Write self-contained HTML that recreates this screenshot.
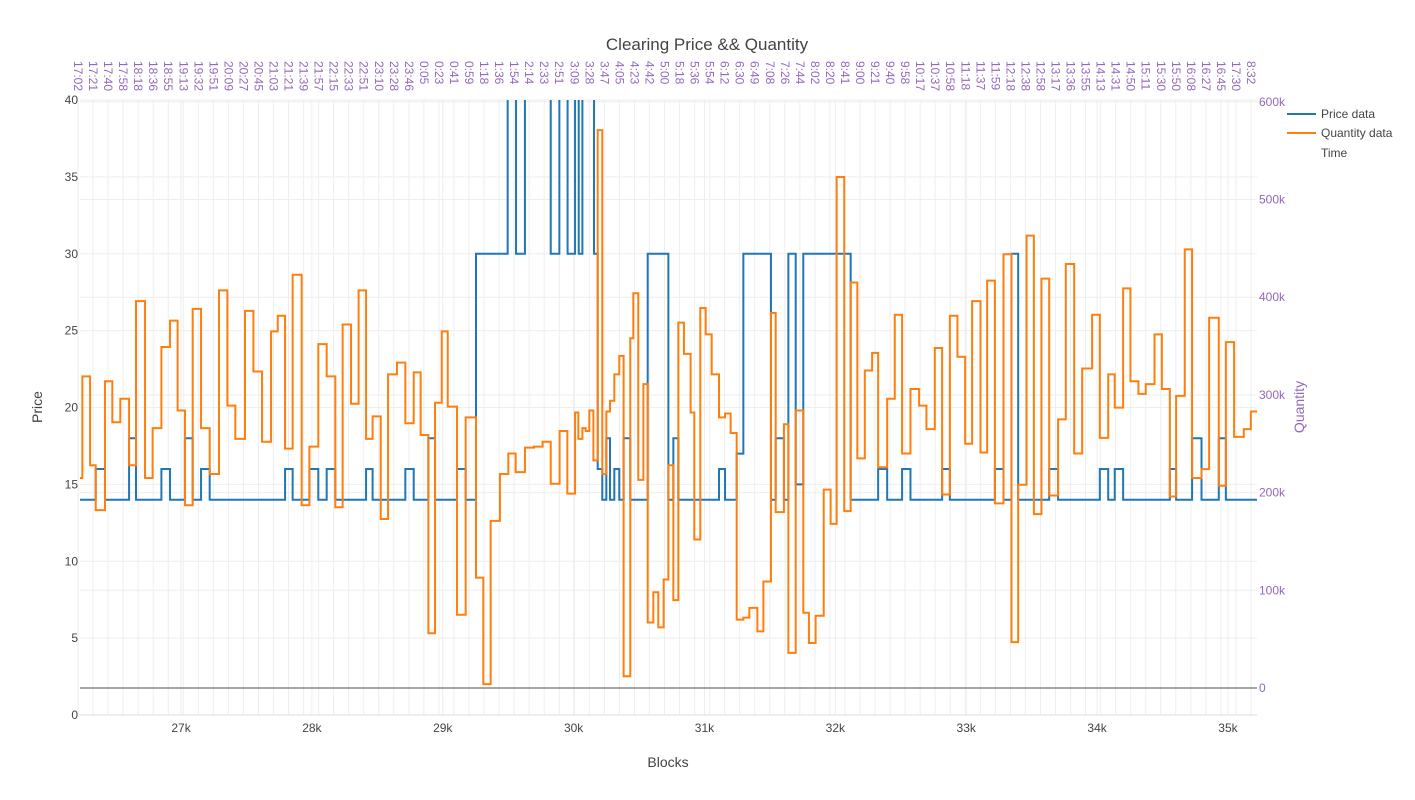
<!DOCTYPE html>
<html><head><meta charset="utf-8">
<style>
body{margin:0;background:#fff;font-family:"Liberation Sans",sans-serif;}
svg text{font-family:"Liberation Sans",sans-serif;}
</style></head>
<body>
<svg id="chart" width="1415" height="795" xmlns="http://www.w3.org/2000/svg">
<defs><clipPath id="plotclip"><rect x="80" y="100" width="1177" height="615"/></clipPath></defs>
<g id="grid"></g>
<g id="axes"></g>
<g id="series" clip-path="url(#plotclip)"></g>
<text x="707" y="50" text-anchor="middle" font-size="17" fill="#444">Clearing Price &amp;&amp; Quantity</text>
<text x="668" y="767" text-anchor="middle" font-size="14" fill="#444">Blocks</text>
<text transform="translate(42,407) rotate(-90)" text-anchor="middle" font-size="14" fill="#444">Price</text>
<text transform="translate(1304,407) rotate(-90)" text-anchor="middle" font-size="14" fill="#9467bd">Quantity</text>
<g>
<g><line x1="1287" y1="114" x2="1316" y2="114" stroke="#1f77b4" stroke-width="2"/><text x="1321" y="118" font-size="12" fill="#444">Price data</text></g>
<g><line x1="1287" y1="133" x2="1316" y2="133" stroke="#ff7f0e" stroke-width="2"/><text x="1321" y="137" font-size="12" fill="#444">Quantity data</text></g>
<g><text x="1321" y="157" font-size="12" fill="#444">Time</text></g>
</g>
</svg>
<script>
const priceBlocks=[26228,26348,26419,26603,26656,26850,26916,27030,27089,27153,27219,27795,27853,27981,28049,28113,28179,28414,28464,28714,28778,28890,28941,29109,29175,29254,29496,29560,29628,29825,29891,29954,30011,30039,30067,30156,30184,30219,30250,30278,30311,30349,30382,30433,30566,30724,30762,30800,31111,31157,31246,31297,31508,31544,31607,31641,31697,31755,32117,32327,32396,32510,32574,32816,32875,33219,33285,33346,33397,33634,33702,34021,34085,34135,34199,34556,34604,34726,34798,34930,34984];
const priceValues=[14,16,14,18,14,16,14,18,14,16,14,16,14,16,14,16,14,16,14,16,14,18,14,16,14,30,50,30,50,30,50,30,50,30,50,30,16,14,18,14,16,14,18,14,30,14,18,14,16,14,17,30,14,18,14,30,15,30,14,16,14,16,14,16,14,16,14,30,14,16,14,16,14,16,14,16,14,18,14,18,14];
const qtyBlocks=[26228,26246,26305,26348,26419,26475,26536,26603,26656,26725,26783,26850,26916,26974,27030,27089,27153,27219,27290,27354,27415,27489,27553,27619,27688,27739,27795,27853,27922,27981,28049,28113,28179,28235,28299,28357,28414,28464,28526,28582,28650,28714,28778,28831,28890,28941,28992,29038,29109,29175,29254,29310,29366,29437,29501,29557,29628,29697,29763,29825,29893,29952,30011,30036,30067,30092,30120,30151,30184,30219,30250,30278,30311,30349,30382,30433,30456,30494,30533,30566,30609,30647,30688,30724,30762,30800,30843,30894,30922,30968,31009,31055,31111,31157,31200,31246,31297,31343,31404,31450,31508,31544,31607,31641,31697,31755,31798,31849,31911,31964,32010,32068,32117,32168,32225,32281,32327,32396,32454,32510,32574,32640,32696,32760,32816,32875,32933,32992,33045,33109,33160,33219,33285,33346,33397,33461,33517,33575,33634,33702,33761,33825,33886,33962,34021,34085,34135,34199,34255,34316,34372,34439,34495,34556,34604,34670,34726,34798,34856,34930,34984,35047,35121,35175];
const qtyValues=[215,319,228,182,314,272,296,228,396,215,266,349,376,284,187,388,266,219,407,289,255,386,324,252,365,381,245,423,187,247,352,319,185,372,291,407,255,278,173,321,333,271,323,259,56,292,365,288,75,277,113,4,171,219,240,221,246,247,252,209,263,199,282,255,266,263,284,233,571,219,283,294,321,340,12,358,404,213,311,67,98,62,111,228,90,374,342,282,152,389,362,321,277,281,261,70,72,82,58,109,384,180,270,36,284,77,46,74,203,168,523,181,415,235,325,343,226,296,382,240,306,289,265,348,198,381,339,250,396,241,417,189,444,47,208,463,178,419,197,275,434,240,327,382,256,321,287,409,314,301,311,362,306,196,299,449,215,224,379,207,354,257,265,283];
const xTicks=[27000,28000,29000,30000,31000,32000,33000,34000,35000];
const xTickLabels=["27k","28k","29k","30k","31k","32k","33k","34k","35k"];
const priceTicks=[0,5,10,15,20,25,30,35,40];
const qtyTicks=[0,100,200,300,400,500,600];
const qtyTickLabels=["0","100k","200k","300k","400k","500k","600k"];
const timeLabels=["17:02","17:21","17:40","17:58","18:18","18:36","18:55","19:13","19:32","19:51","20:09","20:27","20:45","21:03","21:21","21:39","21:57","22:15","22:33","22:51","23:10","23:28","23:46","0:05","0:23","0:41","0:59","1:18","1:36","1:54","2:14","2:33","2:51","3:09","3:28","3:47","4:05","4:23","4:42","5:00","5:18","5:36","5:54","6:12","6:30","6:49","7:08","7:26","7:44","8:02","8:20","8:41","9:00","9:21","9:40","9:58","10:17","10:37","10:58","11:18","11:37","11:59","12:18","12:38","12:58","13:17","13:36","13:55","14:13","14:31","14:50","15:11","15:30","15:50","16:08","16:27","16:45","17:30","8:32"];
const X0=80,X1=1257,BMIN=26228,BMAX=35222;
const sx=b=>X0+(b-BMIN)/(BMAX-BMIN)*(X1-X0);
const sy=p=>715-p*15.375;
const sq=q=>688-q*0.977;
const NS="http://www.w3.org/2000/svg";
function mk(tag,attrs,parent){const e=document.createElementNS(NS,tag);for(const k in attrs)e.setAttribute(k,attrs[k]);parent.appendChild(e);return e;}
const grid=document.getElementById('grid'),axes=document.getElementById('axes'),series=document.getElementById('series');
// time grid + labels
timeLabels.forEach((t,i)=>{
  const x=78+i*(1251-78)/(timeLabels.length-1);
  const g=mk('line',{x1:x,y1:100,x2:x,y2:715,stroke:'#eee','stroke-width':1},grid);
  
  
  const tx=mk('text',{transform:`translate(${x-4},61) rotate(90)`,'font-size':12,fill:'#9467bd'},axes);
  tx.textContent=t;
  
  
});
xTicks.forEach((b,i)=>{
  const x=sx(b);
  const g=mk('line',{x1:x,y1:100,x2:x,y2:715,stroke:'#eee','stroke-width':1},grid);
  
  
  const tx=mk('text',{x:x,y:732,'text-anchor':'middle','font-size':12,fill:'#444'},axes);
  tx.textContent=xTickLabels[i];
  
  
});
priceTicks.forEach(p=>{
  const y=sy(p);
  const g=mk('line',{x1:X0,y1:y,x2:X1,y2:y,stroke:'#eee','stroke-width':1},grid);
  
  
  const tx=mk('text',{x:78,y:y+4,'text-anchor':'end','font-size':12,fill:'#444'},axes);
  tx.textContent=String(p);
  
  
});
qtyTicks.forEach((q,i)=>{
  const y=sq(q);
  const g=mk('line',{x1:X0,y1:y,x2:X1,y2:y,stroke:i===0?'#888':'#eee','stroke-width':i===0?1.5:1},grid);
  
  
  const tx=mk('text',{x:1259,y:y+4,'font-size':12,fill:'#9467bd'},axes);
  tx.textContent=qtyTickLabels[i];
  
  
});
const base=mk('line',{x1:X0,y1:715,x2:X1,y2:715,stroke:'#ddd','stroke-width':1},grid);


function stepPath(bs,vs,ys){
  let d='';
  for(let i=0;i<bs.length;i++){
    const x=sx(bs[i]),y=ys(vs[i]);
    if(i===0)d+=`M${x},${y}`;else d+=`H${x}V${y}`;
  }
  d+=`H${sx(BMAX)}`;
  return d;
}
const pp=mk('path',{d:stepPath(priceBlocks,priceValues,sy),fill:'none',stroke:'#1f77b4','stroke-width':2},series);


const qp=mk('path',{d:stepPath(qtyBlocks,qtyValues,sq),fill:'none',stroke:'#ff7f0e','stroke-width':2},series);


</script>
</body></html>
